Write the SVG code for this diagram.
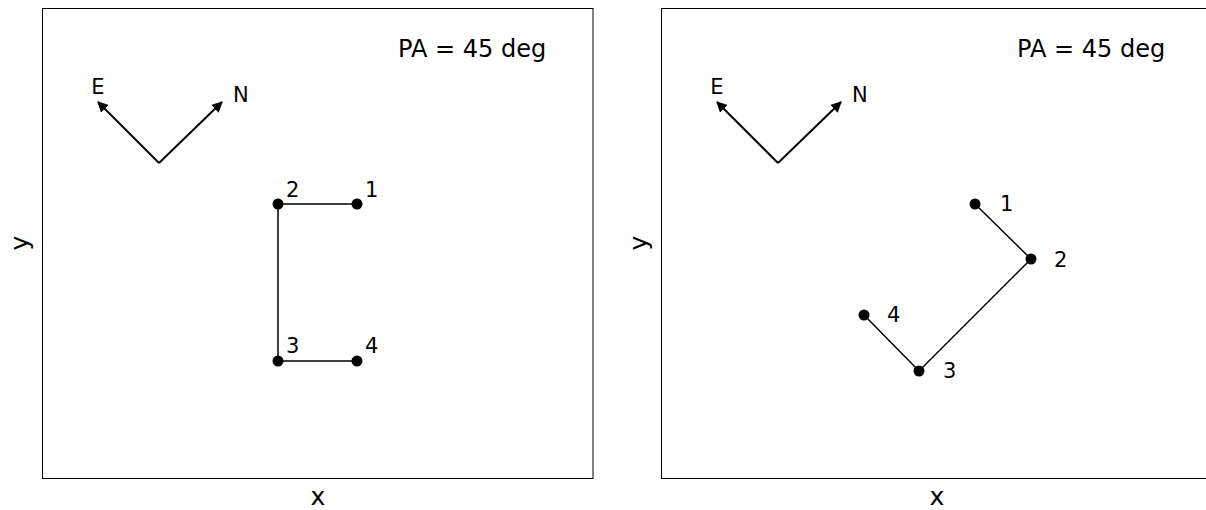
<svg xmlns="http://www.w3.org/2000/svg" width="1206" height="510" viewBox="0 0 1206 510">
<style>
text{font-family:"DejaVu Sans","Liberation Sans",sans-serif;fill:#000}
.pa{font-size:24px}
.ax{font-size:25px;text-anchor:middle}
.lbl{font-size:21px}
.frame{fill:none;stroke:#000;stroke-width:1}
.arrow{stroke:#000;stroke-width:2;fill:none;marker-end:url(#ah)}
.seg{stroke:#000;stroke-width:1.5;fill:none}
.pt{fill:#000}
</style>
<defs>
<marker id="ah" viewBox="0 0 10 10" refX="9" refY="5" markerWidth="5.5" markerHeight="5.5" markerUnits="strokeWidth" orient="auto">
<path d="M0,0 L10,5 L0,10 z" fill="#000"/>
</marker>
</defs>
<rect width="1206" height="510" fill="#fff"/>
<g id="panel-left">
<rect class="frame" x="42.5" y="8.5" width="550.5" height="470"/>
<text class="pa" x="398" y="57">PA = 45 deg</text>
<text class="ax" x="318" y="505">x</text>
<text class="ax" transform="translate(28,243) rotate(-90)">y</text>
</g>
<g id="panel-right">
<rect class="frame" x="661.5" y="8.5" width="550.5" height="470"/>
<text class="pa" x="1017" y="57">PA = 45 deg</text>
<text class="ax" x="937" y="505">x</text>
<text class="ax" transform="translate(647,243) rotate(-90)">y</text>
</g>
<g id="compass-left">
<line class="arrow" x1="159" y1="163" x2="98" y2="102"/>
<line class="arrow" x1="159" y1="163" x2="222" y2="102"/>
<text class="lbl" x="98" y="94" text-anchor="middle">E</text>
<text class="lbl" x="233" y="102">N</text>
</g>
<g id="compass-right">
<line class="arrow" x1="778" y1="163" x2="717" y2="102"/>
<line class="arrow" x1="778" y1="163" x2="841" y2="102"/>
<text class="lbl" x="717" y="94" text-anchor="middle">E</text>
<text class="lbl" x="852" y="102">N</text>
</g>
<g id="connectors">
<polyline class="seg" points="357,204 278,204 278,361 357,361"/>
<polyline class="seg" points="975,204 1031,259 919,371 864,315"/>
</g>
<g id="left-p1"><circle class="pt" cx="357" cy="204" r="5.5"/><text class="lbl" x="365" y="197">1</text></g>
<g id="left-p2"><circle class="pt" cx="278" cy="204" r="5.5"/><text class="lbl" x="286" y="197">2</text></g>
<g id="left-p3"><circle class="pt" cx="278" cy="361" r="5.5"/><text class="lbl" x="286" y="353">3</text></g>
<g id="left-p4"><circle class="pt" cx="357" cy="361" r="5.5"/><text class="lbl" x="365" y="353">4</text></g>
<g id="right-p1"><circle class="pt" cx="975" cy="204" r="5.5"/><text class="lbl" x="1000" y="211">1</text></g>
<g id="right-p2"><circle class="pt" cx="1031" cy="259" r="5.5"/><text class="lbl" x="1054" y="267">2</text></g>
<g id="right-p3"><circle class="pt" cx="919" cy="371" r="5.5"/><text class="lbl" x="943" y="378">3</text></g>
<g id="right-p4"><circle class="pt" cx="864" cy="315" r="5.5"/><text class="lbl" x="887" y="322">4</text></g>
</svg>
